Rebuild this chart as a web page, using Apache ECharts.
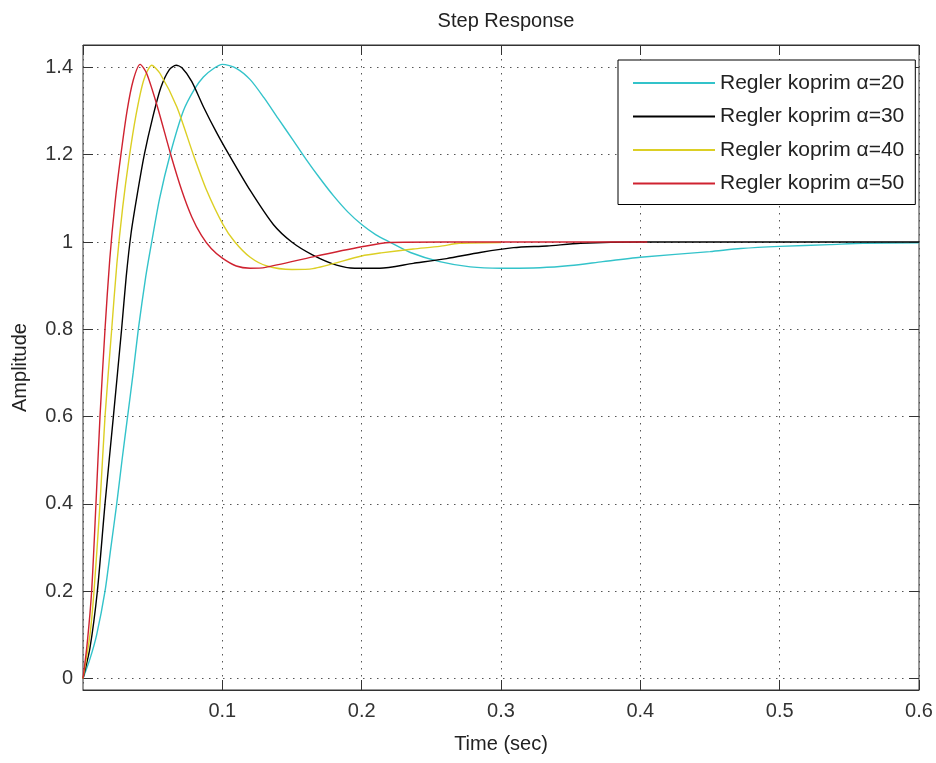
<!DOCTYPE html>
<html>
<head>
<meta charset="utf-8">
<title>Step Response</title>
<script src="https://cdn.jsdelivr.net/npm/echarts@6/dist/echarts.min.js"></script>
<style>
  html, body { margin: 0; padding: 0; background: #ffffff; }
  #chart { width: 936px; height: 763px; }
</style>
</head>
<body>
<div id="chart"></div>
<script>
// Step responses of the closed loop for four controller settings, as [time (s), amplitude]
const resp20 = [
  [0, 0], [0.005, 0.045], [0.0098, 0.1], [0.0158, 0.2], [0.02, 0.3], [0.0242, 0.4],
  [0.028, 0.5], [0.032, 0.6], [0.036, 0.7], [0.0397, 0.8], [0.045, 0.92], [0.0493, 1.0],
  [0.055, 1.1], [0.0625, 1.2], [0.072, 1.3], [0.08, 1.35], [0.0864, 1.378], [0.094, 1.398],
  [0.1, 1.407], [0.11, 1.398], [0.12, 1.372], [0.13, 1.33], [0.14, 1.283], [0.15, 1.237],
  [0.16, 1.19], [0.17, 1.146], [0.18, 1.105], [0.19, 1.069], [0.2, 1.04], [0.21, 1.017],
  [0.22, 1.0], [0.235, 0.976], [0.256, 0.955], [0.278, 0.943], [0.3, 0.94], [0.328, 0.941],
  [0.35, 0.946], [0.373, 0.955], [0.4, 0.965], [0.45, 0.978], [0.472, 0.985], [0.5, 0.99],
  [0.536, 0.994], [0.56, 0.997], [0.6, 0.998]
];
const resp30 = [
  [0, 0], [0.005, 0.07], [0.0103, 0.2], [0.0158, 0.4], [0.0218, 0.6], [0.0277, 0.8],
  [0.031, 0.92], [0.0345, 1.02], [0.039, 1.11], [0.044, 1.2], [0.05, 1.285], [0.056, 1.355],
  [0.062, 1.395], [0.0668, 1.405], [0.071, 1.399], [0.078, 1.368], [0.0864, 1.31], [0.096, 1.25],
  [0.1055, 1.196], [0.12, 1.118], [0.1366, 1.04], [0.1498, 1.0], [0.165, 0.97], [0.182, 0.947],
  [0.195, 0.94], [0.213, 0.94], [0.237, 0.951], [0.261, 0.962], [0.285, 0.976], [0.309, 0.987],
  [0.333, 0.991], [0.357, 0.997], [0.4, 1.0], [0.6, 1.0]
];
const resp40 = [
  [0, 0], [0.005, 0.1], [0.0079, 0.2], [0.0122, 0.4], [0.0158, 0.6], [0.0206, 0.8],
  [0.0243, 0.95], [0.0285, 1.08], [0.033, 1.19], [0.038, 1.29], [0.0435, 1.37], [0.0493, 1.405],
  [0.0553, 1.386], [0.0673, 1.31], [0.0792, 1.2], [0.0888, 1.118], [0.1005, 1.04], [0.109, 1.0],
  [0.12, 0.965], [0.132, 0.945], [0.15, 0.937], [0.165, 0.939], [0.2, 0.968], [0.214, 0.975],
  [0.237, 0.984], [0.256, 0.99], [0.27, 0.997], [0.3, 0.999]
];
const resp50 = [
  [0, 0], [0.003, 0.08], [0.0062, 0.2], [0.0093, 0.4], [0.0122, 0.6], [0.0158, 0.8],
  [0.0192, 0.96], [0.023, 1.09], [0.0272, 1.2], [0.0316, 1.3], [0.036, 1.37], [0.041, 1.407],
  [0.0457, 1.386], [0.0534, 1.31], [0.063, 1.2], [0.0709, 1.118], [0.078, 1.058], [0.085, 1.015],
  [0.092, 0.985], [0.1, 0.963], [0.11, 0.945], [0.12, 0.94], [0.131, 0.942], [0.165, 0.966],
  [0.2, 0.989], [0.22, 0.999], [0.26, 1.0], [0.405, 1.0]
];

const seriesNames = ['Regler koprim α=20', 'Regler koprim α=30', 'Regler koprim α=40', 'Regler koprim α=50'];
const seriesColors = ['#33c3ca', '#000000', '#dccf24', '#cf2230'];
const seriesData = [resp20, resp30, resp40, resp50];

const timeRange = [0, 0.6];
const timeStep = 0.1;
const ampRange = [0, 1.4];
const ampStep = 0.2;

const FONT = '"Liberation Sans", Arial, Helvetica, sans-serif';
const TEXT = '#333333';
const dotted = { color: '#555555', width: 1, type: [1.5, 5.5] };

const chart = echarts.init(document.getElementById('chart'), null, { renderer: 'canvas' });

// Axis pairs: grid 0 holds the data scale (0..1.4), grid 1 is the framed box around it
const option = {
  backgroundColor: '#ffffff',
  animation: false,
  textStyle: { fontFamily: FONT },
  title: {
    text: 'Step Response',
    left: 501,
    top: 6,
    textAlign: 'center',
    textStyle: { fontFamily: FONT, fontSize: 20, fontWeight: 'normal', color: '#222' }
  },
  legend: {
    orient: 'vertical',
    left: 618,
    top: 60,
    padding: [12, 11, 10, 15],
    icon: 'rect',
    itemWidth: 82,
    itemHeight: 2,
    itemGap: 11.5,
    backgroundColor: '#ffffff',
    borderColor: '#000000',
    borderWidth: 1,
    textStyle: { fontFamily: FONT, fontSize: 21, color: '#222', lineHeight: 22 },
    data: seriesNames
  },
  grid: [
    { left: 83, right: 17, top: 67.4, bottom: 84.5 },
    { left: 83, right: 17, top: 45, bottom: 73, show: true, borderColor: '#333333', borderWidth: 1, backgroundColor: 'transparent' }
  ],
  xAxis: [
    {
      gridIndex: 0, type: 'value', min: timeRange[0], max: timeRange[1], interval: timeStep,
      axisLine: { show: false }, axisTick: { show: false }, axisLabel: { show: false }, splitLine: { show: false }
    },
    {
      gridIndex: 1, type: 'value', position: 'bottom', min: timeRange[0], max: timeRange[1], interval: timeStep,
      name: 'Time (sec)', nameLocation: 'middle', nameGap: 44,
      nameTextStyle: { fontFamily: FONT, fontSize: 20, color: '#222' },
      axisLine: { show: true, lineStyle: { color: '#333333', width: 1 } },
      axisTick: { show: true, inside: true, length: 10, lineStyle: { color: '#333333' } },
      axisLabel: { show: true, showMinLabel: false, margin: 11, fontFamily: FONT, fontSize: 20, color: TEXT },
      splitLine: { show: true, lineStyle: dotted }
    },
    {
      gridIndex: 1, type: 'value', position: 'top', min: timeRange[0], max: timeRange[1], interval: timeStep,
      axisLine: { show: true, lineStyle: { color: '#333333', width: 1 } },
      axisTick: { show: true, inside: true, length: 10, lineStyle: { color: '#333333' } },
      axisLabel: { show: false }, splitLine: { show: false }
    }
  ],
  yAxis: [
    {
      gridIndex: 0, type: 'value', position: 'left', min: ampRange[0], max: ampRange[1], interval: ampStep,
      axisLine: { show: false },
      axisTick: { show: true, inside: true, length: 10, lineStyle: { color: '#333333' } },
      axisLabel: { show: true, margin: 10, fontFamily: FONT, fontSize: 20, color: TEXT },
      splitLine: { show: true, lineStyle: dotted }
    },
    {
      gridIndex: 0, type: 'value', position: 'right', min: ampRange[0], max: ampRange[1], interval: ampStep,
      axisLine: { show: false },
      axisTick: { show: true, inside: true, length: 10, lineStyle: { color: '#333333' } },
      axisLabel: { show: false }, splitLine: { show: false }
    },
    {
      gridIndex: 1, type: 'value', position: 'left', min: 0, max: 1,
      name: 'Amplitude', nameLocation: 'middle', nameGap: 53,
      nameTextStyle: { fontFamily: FONT, fontSize: 20, color: '#222' },
      axisLine: { show: false }, axisTick: { show: false }, axisLabel: { show: false }, splitLine: { show: false }
    }
  ],
  series: seriesData.map((data, i) => ({
    name: seriesNames[i],
    type: 'line',
    xAxisIndex: 0,
    yAxisIndex: 0,
    data: data,
    symbol: 'none',
    clip: false,
    smooth: 0.25,
    z: 3 + i,
    lineStyle: { color: seriesColors[i], width: 1.4 },
    itemStyle: { color: seriesColors[i] }
  }))
};

chart.setOption(option);
</script>
</body>
</html>
